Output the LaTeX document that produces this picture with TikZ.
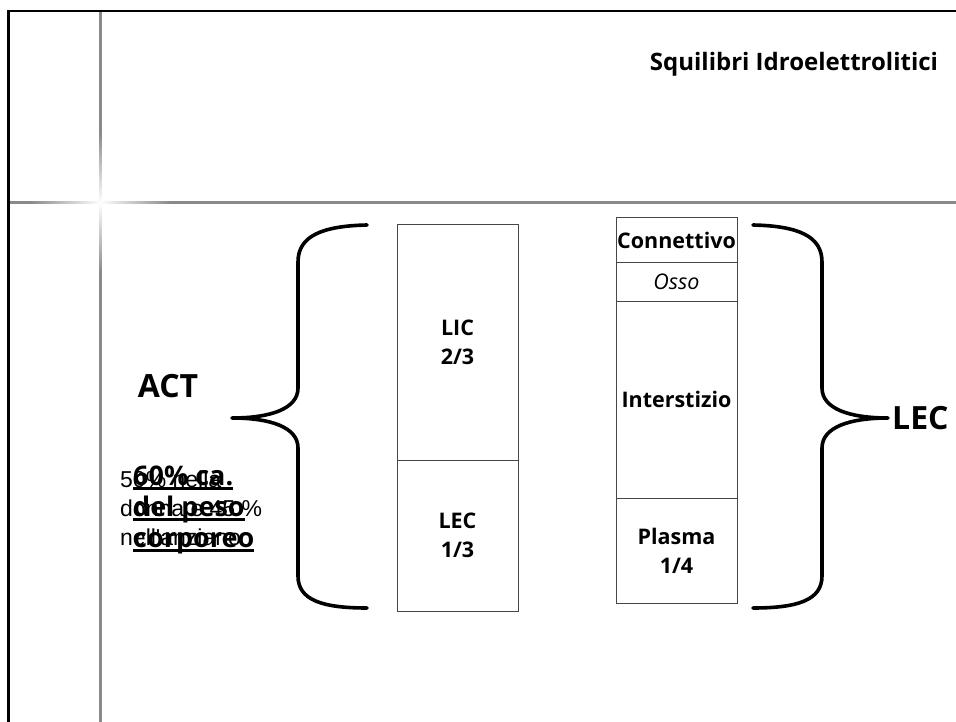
\documentclass[tikz,border=0pt]{standalone}
\usepackage{fontspec}
\setmainfont{Open Sans}
\newfontfamily\arialfont{Liberation Sans}
\usetikzlibrary{fadings}
\tikzfading[name=glowfade, inner color=transparent!0, outer color=transparent!100]
\definecolor{linegray}{RGB}{138,138,138}
\definecolor{boxgray}{RGB}{70,70,70}
\begin{document}
\begin{tikzpicture}[x=1pt,y=-1pt,
  frame/.style={line width=2.6pt, black},
  gridline/.style={line width=2.8pt, linegray},
  cell/.style={draw=boxgray, line width=1pt, minimum width=121pt, inner sep=0pt, align=center,
               font=\fontsize{21.5}{29}\selectfont\bfseries},
  bracepath/.style={line width=3.6pt, line cap=round, line join=round},
  biglabel/.style={inner sep=0pt, font=\fontsize{32}{36}\selectfont\bfseries},
  plaintxt/.style={inner sep=0pt, anchor=base west, font=\arialfont\fontsize{23}{29}\selectfont},
  boldtxt/.style={inner sep=0pt, anchor=base west, font=\fontsize{27}{31}\selectfont\bfseries},
  ulinestyle/.style={line width=2.6pt, black}]
\useasboundingbox (0,0) rectangle (956,722);
\fill[white] (0,0) rectangle (956,722);

% grid lines with glow
\draw[gridline] (100.3,10) -- (100.3,722);
\draw[gridline] (8,202.5) -- (956,202.5);
\fill[white, path fading=glowfade] (100.3,202.5) circle (70pt);

% frame
\draw[frame] (8.7,722) -- (8.7,11) -- (956,11);

% title
\node[inner sep=0pt, font=\fontsize{24}{28}\selectfont\bfseries] (title) at (794,64) {Squilibri Idroelettrolitici};

% left column
\node[cell, minimum height=235pt] (lic) at (457.5,342.5) {LIC\\2/3};
\node[cell, minimum height=151pt] (lecl) at (457.5,535.5) {LEC\\1/3};

% right column
\node[cell, minimum height=45pt] (conn) at (676.5,240.5) {Connettivo};
\node[cell, minimum height=38pt, font=\fontsize{21.5}{29}\selectfont\itshape] (osso) at (676.5,282) {Osso};
\node[cell, minimum height=197pt] (inter) at (676.5,399.5) {Interstizio};
\node[cell, minimum height=105pt] (plasma) at (676.5,550.5) {Plasma\\1/4};

% braces
\draw[bracepath] (367,225) .. controls (322,226) and (298,236) .. (298,262)
  -- (298,388) .. controls (298,409) and (270,418) .. (232,418)
  .. controls (270,418) and (298,427) .. (298,448)
  -- (298,576) .. controls (298,600) and (322,608) .. (367,608);
\draw[bracepath] (753,225) .. controls (798,226) and (822,236) .. (822,262)
  -- (822,388) .. controls (822,409) and (850,418) .. (888,418)
  .. controls (850,418) and (822,427) .. (822,448)
  -- (822,576) .. controls (822,600) and (798,608) .. (753,608);

% labels
\node[biglabel] (act) at (168,386) {ACT};
\node[biglabel, anchor=west] (lecr) at (892,418) {LEC};

% overlapping texts (overlap as in the reference)
\node[plaintxt] (pa) at (120,487) {50\% nella};
\node[plaintxt] (pb) at (120,516) {donna e 45 \%};
\node[plaintxt] (pc) at (120,545) {nell'anziano};
\node[boldtxt] (ba) at (133,485) {60\% ca.};
\node[boldtxt] (bb) at (133,516) {del peso};
\node[boldtxt] (bc) at (133,547) {corporeo};
\foreach \n in {ba,bb,bc}
  \draw[ulinestyle] ([yshift=-3.5pt]\n.base west) -- ([yshift=-3.5pt]\n.base east);
\end{tikzpicture}
\end{document}
